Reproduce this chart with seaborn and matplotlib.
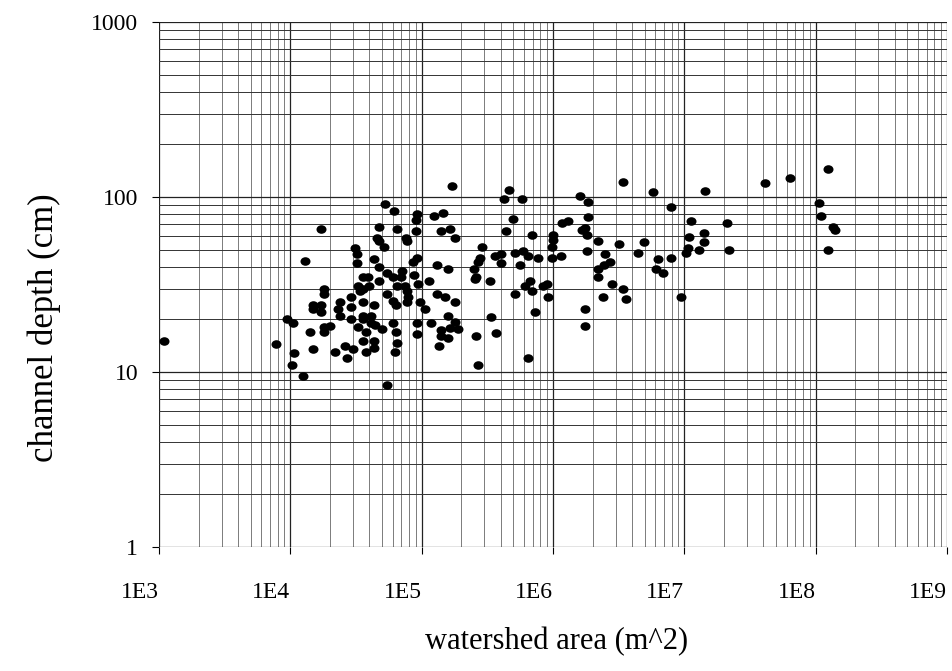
import matplotlib
matplotlib.use("Agg")
import matplotlib.pyplot as plt
import seaborn as sns
import numpy as np
import pandas as pd
from matplotlib.path import Path
from matplotlib.ticker import LogLocator, FixedLocator, NullFormatter

# ---- data (watershed area m^2, channel depth cm) ----
area = [
    5.3e4, 1.7e4, 4.7e4, 4.6e4, 4.7e4, 3.1e4, 5.2e4, 1.3e4, 3.2e4, 3.2e4,
    4.3e4, 4.7e4, 5.4e4, 3.6e4, 3.9e4, 4.7e4, 3.3e4, 3.6e4, 4.0e4, 3.4e4,
    1.8e4, 1.8e4, 5.4e4, 2.9e4, 1.5e4, 1.7e4, 1.5e4, 1.7e4, 2.4e4, 2.3e4,
    2.4e4, 2.9e4, 3.6e4, 4.3e4, 3.6e4, 4.1e4, 9.4e3, 1.05e4, 2.9e4, 3.6e4,
    4.1e4, 3.3e4, 3.8e4, 4.4e4, 5.0e4, 1.8e4, 2.0e4, 1.8e4, 1.4e4, 3.6e4,
    4.3e4, 1.1e3, 7.8e3, 1.5e4, 2.2e4, 2.6e4, 3.0e4, 3.8e4, 4.3e4, 1.07e4,
    2.7e4, 1.03e4, 1.25e4, 5.4e4,
    1.7e5, 4.6e5, 3.4e6, 5.8e6, 1.6e6, 4.2e5, 5.8e5, 1.85e6, 6.2e4, 9.2e4,
    9.1e4, 1.24e5, 1.46e5, 1.85e6, 5.0e5, 1.17e6, 1.3e6, 6.5e4, 9.1e4, 1.4e5,
    1.64e5, 4.4e5, 1.67e6, 1.75e6, 1.8e6, 7.6e4, 7.7e4, 1.8e5, 6.9e5, 1.0e6,
    1.0e6, 2.2e6, 3.2e6, 4.9e6, 2.9e5, 9.8e5, 5.1e5, 5.9e5, 6.4e5, 3.6e5,
    4.0e5, 7.7e5, 9.8e5, 1.15e6, 1.8e6, 2.5e6, 4.4e6, 6.3e6, 9.2e4, 8.6e4,
    2.8e5, 2.7e5, 1.3e5, 1.6e5, 2.5e5, 4.0e5, 5.6e5, 2.7e6, 2.45e6, 2.2e6,
    6.1e6, 7.1e4, 6.0e4, 7.0e4, 8.7e4, 2.2e6, 2.6e5, 2.55e5, 1.14e5, 9.4e4,
    3.3e5, 6.5e4, 7.5e4, 7.7e4, 6.7e5, 6.1e5, 9.0e5, 8.4e5, 2.8e6, 3.4e6,
    7.9e4, 1.3e5, 1.5e5, 6.9e5, 5.1e5, 9.2e5, 2.4e6, 3.6e6, 6.0e4, 6.4e4,
    7.7e4, 9.7e4, 1.8e5, 1.06e5, 1.75e6, 7.3e5, 1.6e5, 3.4e5, 6.0e4, 9.2e4,
    1.18e5, 1.8e5, 1.75e6, 6.4e4, 9.2e4, 1.4e5, 1.64e5, 1.9e5, 1.4e5, 1.6e5,
    2.6e5, 3.7e5, 6.5e4, 6.3e4, 1.36e5, 6.5e5, 2.7e5,
    1.24e8, 6.4e7, 4.1e7, 1.44e7, 1.06e8, 7.9e6, 1.1e8, 1.13e7, 2.1e7, 1.36e8,
    1.4e8, 1.09e7, 1.4e7, 1.4e7, 1.07e7, 1.03e7, 1.3e7, 2.2e7, 1.24e8, 7.9e6,
    6.9e6, 9.5e6,
]
depth = [
    91, 66, 67, 58, 56, 51, 52, 43, 47, 42,
    44, 40, 37, 35, 35, 33, 31, 30, 31, 29,
    30, 28, 28, 27, 24, 24, 23, 22, 25, 23,
    21, 23.5, 25, 24, 21, 21, 20, 19, 20, 20,
    19, 18, 17, 18.6, 17.6, 18, 18.3, 17, 17, 15,
    15, 15, 14.5, 13.5, 13, 14, 13.5, 13, 13.7, 12.8,
    12, 11, 9.5, 8.4,
    116, 110, 122, 107, 101, 97.5, 97.5, 94, 83, 80,
    74, 78, 81, 77, 75, 71, 73, 66, 64, 64,
    66, 64, 65, 66.5, 61, 58, 56, 58, 61, 61,
    57, 56, 54, 55, 52, 52, 48, 49, 46, 46,
    47, 45, 45, 46, 49, 47, 48, 44, 45, 42.5,
    45, 42.5, 41, 39, 39, 42, 41, 42.5, 41, 39,
    39, 38, 35, 35, 36, 35, 35, 34, 33, 32,
    33, 31, 31, 29, 33, 31, 32, 31, 32, 30,
    27, 28, 27, 29, 28, 27, 27, 26, 25.5, 24,
    25, 25, 25, 23, 23, 22, 21, 20.6, 19, 19,
    19, 19.3, 18.3, 17, 16.5, 17.4, 17.8, 17.6, 16, 15.6,
    16, 16.7, 14.7, 13, 14, 12, 11,
    145, 128, 120, 108, 92, 88, 78, 73, 71, 67,
    65, 59, 62, 55, 51, 48, 50, 50, 50, 45,
    37, 27,
]
x_tick_values = [1e3, 1e4, 1e5, 1e6, 1e7, 1e8, 1e9]
x_tick_labels = ["1E3", "1E4", "1E5", "1E6", "1E7", "1E8", "1E9"]
y_tick_values = [1, 10, 100, 1000]
y_tick_labels = ["1", "10", "100", "1000"]
x_label = "watershed area (m^2)"
y_label = "channel depth (cm)"

df = pd.DataFrame({"area": area, "depth": depth})

sns.set_theme(style="white")
plt.rcParams["font.family"] = ["Liberation Serif", "DejaVu Serif"]

W, H = 952, 671
fig = plt.figure(figsize=(W / 100, H / 100), dpi=100)
L, R, T, B = 159, 947, 22, 547
ax = fig.add_axes([L / W, 1 - B / H, (R - L) / W, (B - T) / H])

# slightly flattened dot, like the scanned markers
_circ = Path.unit_circle()
ellipse_marker = Path(_circ.vertices * np.array([1.12, 0.96]), _circ.codes)

sns.scatterplot(data=df, x="area", y="depth", ax=ax, color="black",
                s=52, linewidth=0, marker=ellipse_marker, zorder=3,
                legend=False)

ax.set_xscale("log")
ax.set_yscale("log")
ax.set_xlim(1e3, 1e9)
ax.set_ylim(1, 1000)

ax.xaxis.set_major_locator(FixedLocator(x_tick_values))
ax.yaxis.set_major_locator(FixedLocator(y_tick_values))
ax.xaxis.set_minor_locator(LogLocator(base=10, subs=np.arange(2, 10)))
ax.yaxis.set_minor_locator(LogLocator(base=10, subs=np.arange(2, 10)))
ax.xaxis.set_minor_formatter(NullFormatter())
ax.yaxis.set_minor_formatter(NullFormatter())
ax.set_xticklabels(x_tick_labels, fontsize=17, ha="right")
ax.set_yticklabels(y_tick_labels, fontsize=17)

ax.tick_params(axis="both", which="major", direction="out", length=5,
               width=0.8, color="black", labelcolor="black")
ax.tick_params(axis="x", which="major", pad=20)
ax.tick_params(axis="y", which="major", pad=10)
ax.tick_params(axis="both", which="minor", length=0)
ax.xaxis.set_ticks_position("bottom")
ax.yaxis.set_ticks_position("left")

ax.grid(True, which="major", axis="both", color="#222222", linewidth=0.9)
ax.grid(True, which="minor", axis="y", color="#333333", linewidth=0.7)
ax.grid(True, which="minor", axis="x", color="#666666", linewidth=0.6)
ax.set_axisbelow(True)

for s in ax.spines.values():
    s.set_visible(False)

ax.set_xlabel("")
ax.set_ylabel("")
fig.text(557 / W, 1 - 642 / H, x_label, ha="center", va="center",
         fontsize=22, color="black")
fig.text(44 / W, 1 - 328 / H, y_label, ha="center", va="center",
         rotation=90, fontsize=25, color="black")

fig.savefig("out.png", dpi=100, facecolor="white")
